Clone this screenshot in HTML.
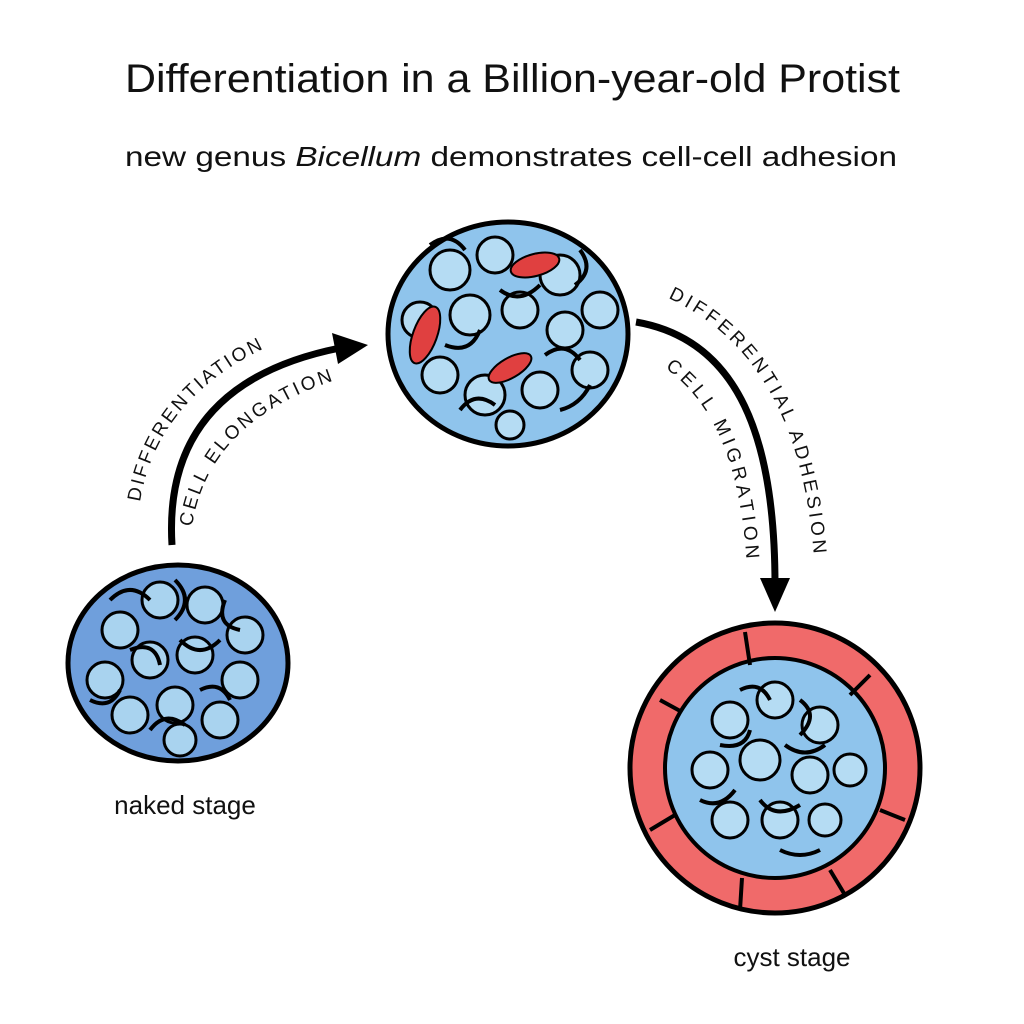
<!DOCTYPE html>
<html><head><meta charset="utf-8"><style>
html,body{margin:0;padding:0;background:#fff;}
svg{display:block;}
</style></head><body>
<svg width="1024" height="1024" viewBox="0 0 1024 1024" xmlns="http://www.w3.org/2000/svg" font-family="Liberation Sans, sans-serif">
<defs>
<path id="pOut1" d="M140,502 Q160,380 310,330"/>
<path id="pIn1" d="M192,527 Q210,405 380,368"/>
<path id="pOut2" d="M668,298 Q805,360 815,575"/>
<path id="pIn2" d="M665,368 Q740,420 747,570"/>
</defs>
<text x="125" y="92" font-size="40" fill="#111" textLength="775" lengthAdjust="spacingAndGlyphs">Differentiation in a Billion-year-old Protist</text>
<text x="125" y="166" font-size="28" fill="#111" textLength="772" lengthAdjust="spacingAndGlyphs">new genus <tspan font-style="italic">Bicellum</tspan> demonstrates cell-cell adhesion</text>

<path d="M172,545 C165,430 230,370 340,348" fill="none" stroke="#000" stroke-width="7"/>
<polygon points="368,345 332,333 338,364" fill="#000"/>
<path d="M636,322 C740,340 775,440 775,585" fill="none" stroke="#000" stroke-width="7"/>
<polygon points="775,612 760,578 790,578" fill="#000"/>

<text font-size="19" fill="#111"><textPath href="#pOut1" textLength="205">DIFFERENTIATION</textPath></text>
<text font-size="19" fill="#111"><textPath href="#pIn1" textLength="215">CELL ELONGATION</textPath></text>
<text font-size="19" fill="#111"><textPath href="#pOut2" textLength="310">DIFFERENTIAL ADHESION</textPath></text>
<text font-size="19" fill="#111"><textPath href="#pIn2" textLength="215">CELL MIGRATION</textPath></text>

<g>
<ellipse cx="178" cy="663" rx="110" ry="98" fill="#6f9fdc" stroke="#000" stroke-width="5"/>
<g fill="#a9d3ef" stroke="#000" stroke-width="3">
<circle cx="120" cy="630" r="18"/><circle cx="160" cy="600" r="18"/><circle cx="205" cy="605" r="18"/><circle cx="245" cy="635" r="18"/>
<circle cx="105" cy="680" r="18"/><circle cx="150" cy="660" r="18"/><circle cx="195" cy="655" r="18"/><circle cx="240" cy="680" r="18"/>
<circle cx="130" cy="715" r="18"/><circle cx="175" cy="705" r="18"/><circle cx="220" cy="720" r="18"/><circle cx="180" cy="740" r="16"/>
</g>
<g fill="none" stroke="#000" stroke-width="4">
<path d="M110,600 q20,-20 40,0 M175,580 q20,20 0,40 M225,600 q-10,25 15,30 M130,650 q25,-10 30,15 M180,640 q20,20 40,0 M90,700 q20,10 30,-10 M200,690 q20,-10 30,10 M150,730 q15,-20 35,-5"/>
</g>
</g>
<text x="185" y="814" text-anchor="middle" font-size="26" fill="#111">naked stage</text>

<g>
<ellipse cx="508" cy="334" rx="120" ry="112" fill="#8fc4ec" stroke="#000" stroke-width="5"/>
<g fill="#b5dcf3" stroke="#000" stroke-width="3">
<circle cx="450" cy="270" r="20"/><circle cx="495" cy="255" r="18"/><circle cx="560" cy="275" r="20"/><circle cx="600" cy="310" r="18"/>
<circle cx="420" cy="320" r="18"/><circle cx="470" cy="315" r="20"/><circle cx="520" cy="310" r="18"/><circle cx="565" cy="330" r="18"/>
<circle cx="440" cy="375" r="18"/><circle cx="485" cy="395" r="20"/><circle cx="540" cy="390" r="18"/><circle cx="590" cy="370" r="18"/>
<circle cx="510" cy="425" r="14"/>
</g>
<g fill="none" stroke="#000" stroke-width="4">
<path d="M430,245 q20,-15 35,5 M500,290 q20,15 40,-5 M580,250 q15,20 -5,35 M445,345 q25,10 35,-15 M545,355 q20,-15 35,5 M460,410 q15,-20 35,-5 M560,410 q20,-5 30,-25"/>
</g>
<g fill="#e04040" stroke="#000" stroke-width="2">
<ellipse cx="535" cy="265" rx="25" ry="11" transform="rotate(-15 535 265)"/>
<ellipse cx="425" cy="335" rx="12" ry="30" transform="rotate(20 425 335)"/>
<ellipse cx="510" cy="368" rx="24" ry="10" transform="rotate(-30 510 368)"/>
</g>
</g>

<g>
<circle cx="775" cy="768" r="145" fill="#f06a6a" stroke="#000" stroke-width="5"/>
<circle cx="775" cy="768" r="110" fill="#8fc4ec" stroke="#000" stroke-width="4"/>
<g stroke="#000" stroke-width="4">
<line x1="745" y1="632" x2="750" y2="665"/><line x1="870" y1="675" x2="850" y2="695"/>
<line x1="905" y1="820" x2="880" y2="810"/><line x1="845" y1="895" x2="830" y2="870"/>
<line x1="740" y1="910" x2="742" y2="878"/><line x1="650" y1="830" x2="675" y2="815"/>
<line x1="660" y1="700" x2="682" y2="712"/>
</g>
<g fill="#b5dcf3" stroke="#000" stroke-width="3">
<circle cx="730" cy="720" r="18"/><circle cx="775" cy="700" r="18"/><circle cx="820" cy="725" r="18"/>
<circle cx="710" cy="770" r="18"/><circle cx="760" cy="760" r="20"/><circle cx="810" cy="775" r="18"/><circle cx="850" cy="770" r="16"/>
<circle cx="730" cy="820" r="18"/><circle cx="780" cy="820" r="18"/><circle cx="825" cy="820" r="16"/>
</g>
<g fill="none" stroke="#000" stroke-width="4">
<path d="M740,690 q20,-10 30,10 M800,700 q20,15 0,35 M720,745 q25,5 30,-15 M785,745 q20,15 40,0 M700,800 q20,10 35,-10 M760,800 q15,20 40,5 M820,850 q-20,10 -40,0"/>
</g>
</g>
<text x="792" y="966" text-anchor="middle" font-size="26" fill="#111">cyst stage</text>
</svg>
</body></html>
